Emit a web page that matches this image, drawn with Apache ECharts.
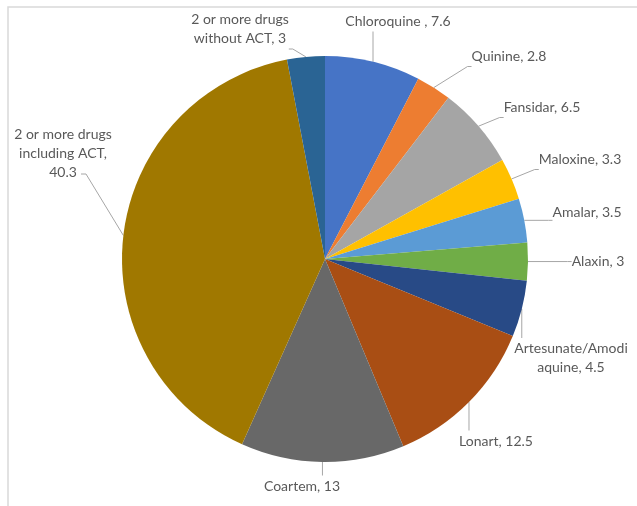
<!DOCTYPE html>
<html>
<head>
<meta charset="utf-8">
<script src="https://cdn.jsdelivr.net/npm/echarts@6/dist/echarts.min.js"></script>
<style>html,body{margin:0;padding:0;background:#fff}#c{width:637px;height:506px}</style>
</head>
<body>
<div id="c"></div>
<script>
var categories = ['Chloroquine ', 'Quinine', 'Fansidar', 'Maloxine', 'Amalar', 'Alaxin', 'Artesunate/Amodi\naquine', 'Lonart', 'Coartem', '2 or more drugs\nincluding ACT', '2 or more drugs\nwithout ACT'];
var values = [7.6, 2.8, 6.5, 3.3, 3.5, 3, 4.5, 12.5, 13, 40.3, 3];
var colors = ['#4674C6', '#ED7D31', '#A5A5A5', '#FFC000', '#5B9BD5', '#70AD47', '#284A86', '#A94E14', '#686868', '#A07800', '#2A6494'];
// label centre positions (layout only)
var labelPos = [[398, 21], [509, 56], [542, 107], [580, 159], [587, 212], [598, 261], [571, 358], [496, 441], [302, 486], [63, 153], [240, 29]];

var chart = echarts.init(document.getElementById('c'));
var data = categories.map(function (n, i) {
  return { name: n, value: values[i], itemStyle: { color: colors[i] } };
});
chart.setOption({
  animation: false,
  graphic: [{ type: 'polyline', shape: { points: [[8, 520], [8, 7], [650, 7]] }, style: { stroke: '#d9d9d9', lineWidth: 1.5, fill: null } }],
  series: [{
    type: 'pie',
    center: [325, 259],
    radius: 203,
    startAngle: 90,
    clockwise: true,
    avoidLabelOverlap: false,
    data: data,
    label: {
      show: true,
      position: 'outside',
      color: '#595959',
      fontFamily: 'Lato',
      fontSize: 14,
      lineHeight: 19,
      align: 'center',
      formatter: function (p) {
        if (p.dataIndex === 9) return '2 or more drugs\nincluding ACT,\n' + p.value;
        return p.name + ', ' + p.value;
      }
    },
    labelLine: { show: true, length: 10, length2: 10, lineStyle: { color: '#a6a6a6', width: 1 } },
    labelLayout: function (p) {
      var pos = labelPos[p.dataIndex];
      var w = p.labelRect.width, h = p.labelRect.height;
      var x0 = pos[0] - w / 2, x1 = pos[0] + w / 2, y0 = pos[1] - h / 2 - 1, y1 = pos[1] + h / 2 + 1;
      var s = p.labelLinePoints ? p.labelLinePoints[0] : [pos[0], pos[1]];
      var pts;
      if (p.dataIndex === 9) {
        // attach to the right end of the last text line
        var ax = pos[0] + 18, ay = pos[1] + 21;
        pts = [[s[0], s[1]], [ax + 5, ay], [ax, ay]];
      } else {
        var ex = Math.min(Math.max(s[0], x0), x1);
        var ey = Math.min(Math.max(s[1], y0), y1);
        pts = [[s[0], s[1]], [ex, ey], [ex, ey]];
        if (ex === x0 || ex === x1) {
          var tail = ex === x0 ? -4 : 4;
          pts = [[s[0], s[1]], [ex + tail, ey], [ex, ey]];
        }
      }
      return { x: pos[0], y: pos[1], align: 'center', verticalAlign: 'middle', labelLinePoints: pts };
    }
  }]
});
</script>
</body>
</html>
